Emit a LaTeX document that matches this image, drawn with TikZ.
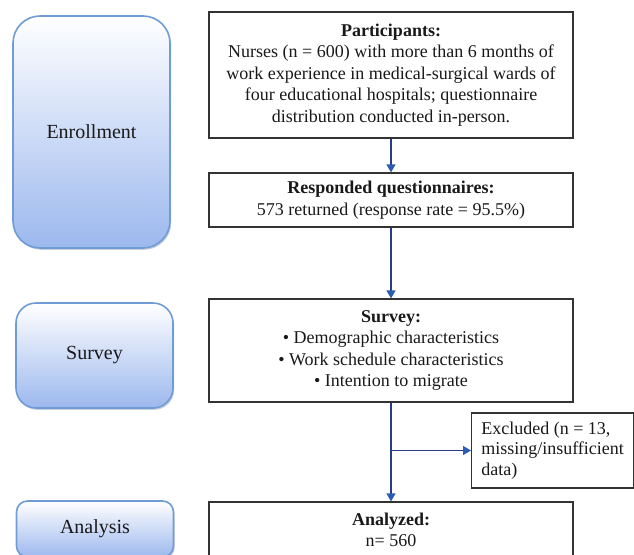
\documentclass[tikz,border=0pt]{standalone}
\usepackage{fontspec}
\setmainfont{Liberation Serif}
\usetikzlibrary{positioning,arrows.meta,shadows}
\definecolor{stagebot}{RGB}{156,184,238}
\definecolor{stageline}{RGB}{112,156,214}
\definecolor{flowblue}{RGB}{38,58,142}
\definecolor{tipblue}{RGB}{44,92,178}
\tikzset{
block/.style = {draw=black!80, line width=1.2pt, fill=white, rectangle, minimum width=364pt, align=center, text=black!90, font=\fontsize{18}{21.5}\selectfont},
side/.style  = {draw=black!80, line width=1.2pt, fill=white, rectangle, minimum width=162pt, minimum height=75pt, align=left, text=black!90, font=\fontsize{18}{20.5}\selectfont},
stage/.style = {draw=stageline, line width=1.6pt, top color=white, bottom color=stagebot, minimum width=157pt, text=black!90, font=\fontsize{20}{24}\selectfont, drop shadow={shadow xshift=1.2pt, shadow yshift=-1.8pt, opacity=0.3, fill=stageline!60!black}},
flow/.style  = {->, draw=flowblue, line width=1.3pt}
}
\begin{document}
\begin{tikzpicture}[x=1pt, y=-1pt, >={Triangle[width=9pt,length=8pt,color=tipblue]}]
    \clip (0,0) rectangle (634,554);
    \node [stage, minimum height=232pt, rounded corners=27pt] (enrol) at (91.5,132) {Enrollment};
    \node [stage, below of=enrol, node distance=223.5pt, xshift=3pt, minimum height=105pt, rounded corners=20pt] (survey) {Survey};
    \node [stage, below of=survey, node distance=173.5pt, xshift=0.5pt, minimum height=56pt, rounded corners=11pt] (analysis) {Analysis};
    \node [block, minimum height=126pt] (part) at (391,75) {\textbf{Participants:}\\Nurses (n = 600) with more than 6 months of\\work experience in medical-surgical wards of\\four educational hospitals; questionnaire\\distribution conducted in-person.};
    \node [block, below of=part, node distance=125pt, minimum height=54pt] (resp) {\textbf{Responded questionnaires:}\\573 returned (response rate = 95.5\%)};
    \node [block, below of=resp, node distance=150.5pt, minimum height=103pt] (surv) {\textbf{Survey:}\\\textbullet{} Demographic characteristics\\\textbullet{} Work schedule characteristics\\\textbullet{} Intention to migrate};
    \node [block, below of=surv, node distance=179.5pt, minimum height=56pt] (anal) {\textbf{Analyzed:}\\n= 560};
    \node [side, anchor=west] (excl) at (471,450.5) {Excluded (n = 13,\\missing/insufficient\\data)};
    \draw [flow] (part) -- (resp);
    \draw [flow] (resp) -- (surv);
    \draw [flow] (surv) -- (anal);
    \draw [flow] (surv.south |- excl.west) -- (excl);
\end{tikzpicture}
\end{document}
